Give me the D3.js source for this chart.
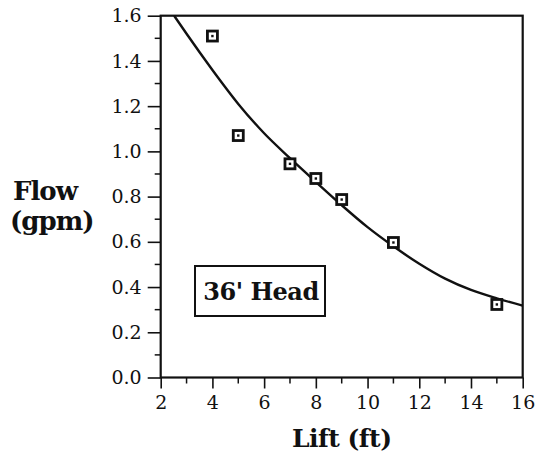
<!DOCTYPE html>
<html>
<head>
<meta charset="utf-8">
<script src="https://cdn.jsdelivr.net/npm/d3@7"></script>
<style>
  body { margin: 0; background: #fff; }
  text { font-family: "DejaVu Serif", serif; fill: #111; }
</style>
</head>
<body>
<div id="chart"></div>
<script>
// measured points (Lift ft, Flow gpm)
var liftPts = [4, 5, 7, 8, 9, 11, 15];
var flowPts = [1.51, 1.07, 0.945, 0.88, 0.787, 0.597, 0.323];

// fitted curve
var fitLift = [2.52, 3, 4, 5, 6, 7, 8, 9, 10, 11, 12, 13, 14, 15, 16];
var fitFlow = [1.60, 1.52, 1.36, 1.21, 1.08, 0.97, 0.865, 0.762, 0.665, 0.58, 0.503, 0.437, 0.387, 0.35, 0.318];

var xTicks = [2, 4, 6, 8, 10, 12, 14, 16];
var yTicks = [0.0, 0.2, 0.4, 0.6, 0.8, 1.0, 1.2, 1.4, 1.6];

var svgWidth = 536;
var svgHeight = 456;

var svg = d3.select("#chart")
  .append("svg")
  .attr("width", svgWidth)
  .attr("height", svgHeight);

// plot area edges
var plotLeft = 160.7, plotRight = 522.7, plotTop = 15.7, plotBottom = 377.5;

var x = d3.scaleLinear().domain([2, 16]).range([plotLeft, plotRight]);
var y = d3.scaleLinear().domain([0, 1.6]).range([plotBottom, plotTop]);

// minor ticks
var xMinor = d3.range(3, 16, 2);
var yMinor = d3.range(0.1, 1.6, 0.2);

svg.append("g")
  .selectAll("line")
  .data(xMinor)
  .enter()
  .append("line")
  .attr("x1", d => x(d)).attr("x2", d => x(d))
  .attr("y1", plotBottom).attr("y2", plotBottom + 6)
  .attr("stroke", "#111").attr("stroke-width", 1.5);

svg.append("g")
  .selectAll("line")
  .data(yMinor)
  .enter()
  .append("line")
  .attr("y1", d => y(d)).attr("y2", d => y(d))
  .attr("x1", plotLeft).attr("x2", plotLeft - 6)
  .attr("stroke", "#111").attr("stroke-width", 1.5);

// x axis
var xAxis = svg.append("g")
  .attr("transform", `translate(0,${plotBottom})`)
  .call(d3.axisBottom(x).tickValues(xTicks).tickSize(11).tickPadding(7).tickFormat(d3.format("d")));

// y axis
var yAxis = svg.append("g")
  .attr("transform", `translate(${plotLeft},0)`)
  .call(d3.axisLeft(y).tickValues(yTicks).tickSize(13).tickPadding(6).tickFormat(d3.format(".1f")));

[xAxis, yAxis].forEach(function(ax) {
  ax.select(".domain").remove();
  ax.selectAll(".tick line").attr("stroke", "#111").attr("stroke-width", 1.6);
  ax.selectAll(".tick text")
    .style("font-family", "DejaVu Serif")
    .style("font-size", "19px")
    .attr("fill", "#111");
});

// frame
svg.append("rect")
  .attr("x", plotLeft).attr("y", plotTop)
  .attr("width", plotRight - plotLeft).attr("height", plotBottom - plotTop)
  .attr("fill", "none")
  .attr("stroke", "#111")
  .attr("stroke-width", 2.2);

// fitted curve
var line = d3.line()
  .x((d, i) => x(fitLift[i]))
  .y(d => y(d))
  .curve(d3.curveMonotoneX);

svg.append("path")
  .datum(fitFlow)
  .attr("d", line)
  .attr("fill", "none")
  .attr("stroke", "#111")
  .attr("stroke-width", 2.4);

// square markers
var marks = svg.append("g")
  .selectAll("g")
  .data(flowPts)
  .enter()
  .append("g")
  .attr("transform", (d, i) => `translate(${x(liftPts[i])},${y(d)})`);

marks.append("rect")
  .attr("x", -5).attr("y", -5)
  .attr("width", 10).attr("height", 10)
  .attr("fill", "#fff")
  .attr("stroke", "#111")
  .attr("stroke-width", 2.8);

marks.append("rect")
  .attr("x", -1.2).attr("y", -1.2)
  .attr("width", 2.4).attr("height", 2.4)
  .attr("fill", "#111");

// label box
svg.append("rect")
  .attr("x", 195).attr("y", 266)
  .attr("width", 130).attr("height", 50)
  .attr("fill", "#fff")
  .attr("stroke", "#111")
  .attr("stroke-width", 2);

svg.append("text")
  .attr("x", 261).attr("y", 300)
  .attr("text-anchor", "middle")
  .style("font-size", "24px")
  .style("font-weight", "bold")
  .style("letter-spacing", "-0.5px")
  .text("36' Head");

// axis titles
svg.append("text")
  .attr("x", x(9)).attr("y", 447)
  .attr("text-anchor", "middle")
  .style("font-size", "25px")
  .style("font-weight", "bold")
  .style("letter-spacing", "-0.5px")
  .text("Lift (ft)");

svg.append("text")
  .attr("x", 13).attr("y", 200)
  .style("font-size", "26px")
  .style("font-weight", "bold")
  .style("letter-spacing", "-1px")
  .text("Flow");

svg.append("text")
  .attr("x", 10).attr("y", 230)
  .style("font-size", "26px")
  .style("font-weight", "bold")
  .style("letter-spacing", "-1px")
  .text("(gpm)");
</script>
</body>
</html>
